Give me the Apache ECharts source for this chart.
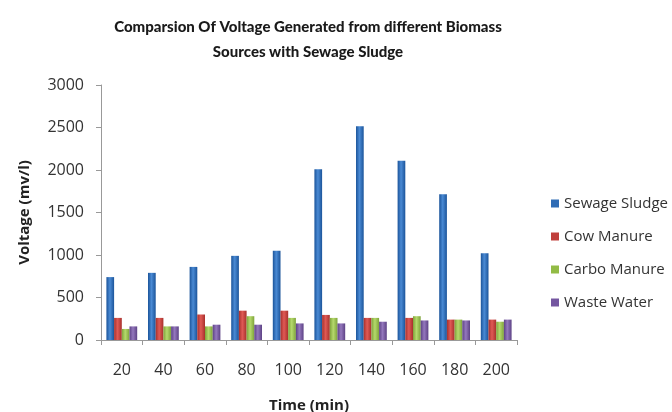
<!DOCTYPE html>
<html><head><meta charset="utf-8">
<script src="https://cdn.jsdelivr.net/npm/echarts@6/dist/echarts.min.js"></script>
<style>html,body{margin:0;padding:0;background:#fff}#c{width:672px;height:412px}</style>
</head><body><div id="c"></div>
<script>
var categories = ['20','40','60','80','100','120','140','160','180','200'];
var sewageSludge = [740, 790, 860, 990, 1050, 2010, 2515, 2110, 1715, 1020];
var cowManure = [260, 260, 300, 345, 345, 295, 260, 260, 240, 240];
var carboManure = [130, 160, 160, 280, 260, 260, 260, 280, 240, 215];
var wasteWater = [160, 160, 180, 180, 195, 195, 215, 230, 230, 240];
var seriesNames = ['Sewage Sludge','Cow Manure','Carbo Manure','Waste Water'];
var yTicks = [0, 500, 1000, 1500, 2000, 2500, 3000];

function grad(dark, light) {
  return new echarts.graphic.LinearGradient(0, 0, 1, 0, [
    {offset: 0, color: dark}, {offset: 0.45, color: light}, {offset: 1, color: dark}
  ]);
}
var fills = [grad('#1b549a', '#4a8ad4'), grad('#a8302c', '#e05a55'), grad('#7ea33a', '#b5d96c'), grad('#5d4285', '#9478bd')];
var legendColors = ['#2f6cb5', '#c0403c', '#92bb45', '#7456a0'];
var dataSets = [sewageSludge, cowManure, carboManure, wasteWater];

var chart = echarts.init(document.getElementById('c'));
chart.setOption({
  animation: false,
  color: legendColors,
  textStyle: {fontFamily: 'Open Sans'},
  title: {
    text: 'Comparsion Of Voltage Generated from different Biomass\nSources with Sewage Sludge',
    left: 303, top: 10, textAlign: 'center',
    textStyle: {fontSize: 15, fontWeight: 900, color: '#1a1a1a', lineHeight: 25, fontFamily: 'Lato'}
  },
  legend: {
    orient: 'vertical', left: 546, top: 191,
    itemWidth: 8, itemHeight: 8, itemGap: 18,
    textStyle: {fontSize: 15, lineHeight: 15, color: '#333', fontFamily: 'Open Sans'},
    data: seriesNames.map(function(n, i){ return {name: n, icon: 'rect', itemStyle: {color: legendColors[i]}}; })
  },
  grid: {left: 101, right: 155, top: 85, bottom: 72, containLabel: false, outerBoundsMode: 'none'},
  xAxis: {
    type: 'category', data: categories,
    name: 'Time (min)', nameLocation: 'middle', nameGap: 58,
    nameTextStyle: {fontSize: 15, fontWeight: 'bold', color: '#222'},
    axisLine: {lineStyle: {color: '#999'}},
    axisTick: {show: true, length: 5, lineStyle: {color: '#999'}},
    axisLabel: {fontSize: 16, color: '#333', margin: 22}
  },
  yAxis: {
    type: 'value', min: 0, max: 3000, interval: 500,
    name: 'Voltage (mv/l)', nameLocation: 'middle', nameGap: 69,
    nameTextStyle: {fontSize: 15, fontWeight: 'bold', color: '#222'},
    axisLine: {show: true, lineStyle: {color: '#999'}},
    axisTick: {show: true, length: 5, lineStyle: {color: '#999'}},
    splitLine: {show: false},
    axisLabel: {fontSize: 16, color: '#333', margin: 17, formatter: function(v){ return String(v); }}
  },
  series: dataSets.map(function(d, i){
    return {
      name: seriesNames[i], type: 'bar', data: d,
      barGap: '0%', barCategoryGap: '26%',
      itemStyle: {color: fills[i]}
    };
  })
});
</script></body></html>
